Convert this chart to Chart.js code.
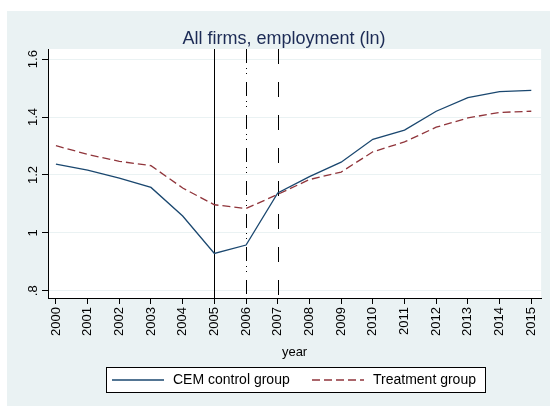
<!DOCTYPE html>
<html>
<head>
<meta charset="utf-8">
<script src="https://cdn.jsdelivr.net/npm/chart.js@4"></script>
<style>
  html, body { margin: 0; padding: 0; background: #fff; }
  canvas { display: block; }
</style>
</head>
<body>
<canvas id="chart" width="550" height="406"></canvas>
<script>
// --- data ---
const years = [2000, 2001, 2002, 2003, 2004, 2005, 2006, 2007, 2008, 2009, 2010, 2011, 2012, 2013, 2014, 2015];
const cemControl = [1.237, 1.217, 1.189, 1.157, 1.058, 0.929, 0.958, 1.138, 1.194, 1.244, 1.323, 1.355, 1.420, 1.467, 1.488, 1.492];
const treatment = [1.301, 1.271, 1.247, 1.232, 1.155, 1.097, 1.084, 1.133, 1.184, 1.210, 1.280, 1.314, 1.365, 1.397, 1.416, 1.420];
const yTicks = [0.8, 1.0, 1.2, 1.4, 1.6];
const yTickLabels = [".8", "1", "1.2", "1.4", "1.6"];
const refYears = [2005, 2006, 2007];
const seriesNames = ["CEM control group", "Treatment group"];
const chartTitle = "All firms, employment (ln)";

const FONT = "'Liberation Sans', Arial, Helvetica, sans-serif";
const BLUE = "#1a476f";
const RED = "#90353b";
const BG = "#eaf2f3";

// fond Stata + zone de tracé blanche
const backgroundPlugin = {
  id: "stataBg",
  beforeDraw(chart) {
    const { ctx, chartArea: a } = chart;
    ctx.save();
    ctx.fillStyle = "#ffffff";
    ctx.fillRect(0, 0, chart.width, chart.height);
    ctx.fillStyle = BG;
    ctx.fillRect(7, 11, chart.width - 7, chart.height - 11);
    ctx.fillStyle = "#ffffff";
    ctx.fillRect(a.left, a.top, a.right - a.left, a.bottom - a.top);
    // titre
    ctx.fillStyle = "#1c2b55";
    ctx.font = "18px " + FONT;
    ctx.textAlign = "center";
    ctx.textBaseline = "alphabetic";
    ctx.fillText(chartTitle, 284, 44);
    ctx.restore();
  }
};

// lignes verticales 2005 / 2006 / 2007
const refLinesPlugin = {
  id: "refLines",
  beforeDatasetsDraw(chart) {
    const { ctx, chartArea: a, scales } = chart;
    const dashes = [[], [14, 5, 1, 4, 1, 8], [15, 18]];
    ctx.save();
    ctx.strokeStyle = "#000";
    ctx.lineWidth = 1;
    refYears.forEach((yr, i) => {
      const x = Math.round(scales.x.getPixelForValue(yr)) + 0.5;
      ctx.setLineDash(dashes[i]);
      ctx.beginPath();
      ctx.moveTo(x, a.top);
      ctx.lineTo(x, a.bottom);
      ctx.stroke();
    });
    ctx.restore();
  }
};

// étiquettes Y verticales + légende encadrée
const labelsPlugin = {
  id: "labelsLegend",
  afterDraw(chart) {
    const { ctx, scales } = chart;
    ctx.save();
    ctx.fillStyle = "#000";
    ctx.font = "13px " + FONT;
    ctx.textAlign = "center";
    ctx.textBaseline = "middle";
    yTicks.forEach((v, i) => {
      const y = scales.y.getPixelForValue(v);
      ctx.save();
      ctx.translate(33, y);
      ctx.rotate(-Math.PI / 2);
      ctx.fillText(yTickLabels[i], 0, 0);
      ctx.restore();
    });

    // légende
    ctx.fillStyle = "#fff";
    ctx.fillRect(106, 367, 379, 25);
    ctx.strokeStyle = "#000";
    ctx.lineWidth = 1;
    ctx.strokeRect(106.5, 367.5, 379, 25);

    ctx.lineWidth = 1.3;
    ctx.strokeStyle = BLUE;
    ctx.beginPath();
    ctx.moveTo(112, 380);
    ctx.lineTo(164, 380);
    ctx.stroke();
    ctx.strokeStyle = RED;
    ctx.setLineDash([8, 4]);
    ctx.beginPath();
    ctx.moveTo(312, 380);
    ctx.lineTo(364, 380);
    ctx.stroke();
    ctx.setLineDash([]);

    ctx.fillStyle = "#000";
    ctx.font = "14px " + FONT;
    ctx.textAlign = "left";
    ctx.fillText(seriesNames[0], 173, 380);
    ctx.fillText(seriesNames[1], 373, 380);
    ctx.restore();
  }
};

const ctx = document.getElementById("chart");

new Chart(ctx, {
  type: "line",
  data: {
    datasets: [
      {
        label: seriesNames[0],
        data: years.map((yr, i) => ({ x: yr, y: cemControl[i] })),
        borderColor: BLUE,
        borderWidth: 1.3,
        pointRadius: 0,
        tension: 0,
        fill: false
      },
      {
        label: seriesNames[1],
        data: years.map((yr, i) => ({ x: yr, y: treatment[i] })),
        borderColor: RED,
        borderWidth: 1.3,
        borderDash: [8, 4],
        pointRadius: 0,
        tension: 0,
        fill: false
      }
    ]
  },
  options: {
    responsive: false,
    animation: false,
    devicePixelRatio: 1,
    layout: { padding: { left: 0, top: 49, right: 6, bottom: 0 } },
    plugins: {
      legend: { display: false },
      title: { display: false },
      tooltip: { enabled: false }
    },
    scales: {
      x: {
        type: "linear",
        min: 1999.75,
        max: 2015.31,
        afterBuildTicks: (scale) => { scale.ticks = years.map(v => ({ value: v })); },
        afterFit: (scale) => { scale.height = 108; },
        grid: {
          drawOnChartArea: false,
          drawTicks: true,
          tickLength: 6,
          tickColor: "#000"
        },
        border: { color: "#000", width: 1 },
        ticks: {
          autoSkip: false,
          minRotation: 90,
          maxRotation: 90,
          padding: 3,
          color: "#000",
          font: { family: FONT, size: 13 },
          callback: (v) => String(v)
        },
        title: {
          display: true,
          text: "year",
          color: "#000",
          font: { family: FONT, size: 13 },
          padding: { top: 0, bottom: 46 }
        }
      },
      y: {
        type: "linear",
        min: 0.775,
        max: 1.635,
        afterBuildTicks: (scale) => { scale.ticks = yTicks.map(v => ({ value: v })); },
        afterFit: (scale) => { scale.width = 48; },
        grid: {
          color: BG,
          lineWidth: 1,
          drawTicks: true,
          tickLength: 6,
          tickColor: "#000"
        },
        border: { color: "#000", width: 1 },
        ticks: {
          color: "transparent",
          font: { family: FONT, size: 13 }
        }
      }
    }
  },
  plugins: [backgroundPlugin, refLinesPlugin, labelsPlugin]
});
</script>
</body>
</html>
